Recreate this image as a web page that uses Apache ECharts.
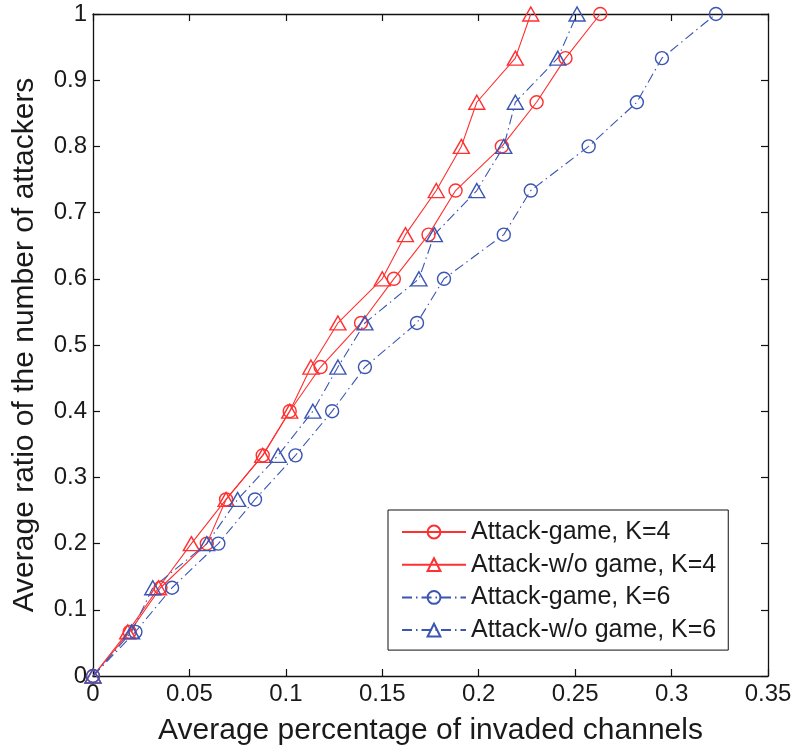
<!DOCTYPE html>
<html>
<head>
<meta charset="utf-8">
<script src="https://cdn.jsdelivr.net/npm/echarts@6/dist/echarts.min.js"></script>
<style>
html,body{margin:0;padding:0;background:#fff;}
#chart{width:796px;height:751px;}
</style>
</head>
<body>
<div id="chart"></div>
<script>
// y values: fractions k/15
var yValues = [0, 0.0667, 0.1333, 0.2, 0.2667, 0.3333, 0.4, 0.4667, 0.5333, 0.6, 0.6667, 0.7333, 0.8, 0.8667, 0.9333, 1.0];
var xGameK4 = [0, 0.019, 0.035, 0.059, 0.069, 0.088, 0.102, 0.118, 0.139, 0.156, 0.174, 0.188, 0.212, 0.230, 0.245, 0.263];
var xNoGameK4 = [0, 0.018, 0.034, 0.051, 0.069, 0.088, 0.102, 0.113, 0.127, 0.150, 0.162, 0.178, 0.191, 0.199, 0.219, 0.227];
var xGameK6 = [0, 0.022, 0.041, 0.065, 0.084, 0.105, 0.124, 0.141, 0.168, 0.182, 0.213, 0.227, 0.257, 0.282, 0.295, 0.323];
var xNoGameK6 = [0, 0.020, 0.031, 0.059, 0.075, 0.096, 0.114, 0.127, 0.141, 0.169, 0.177, 0.199, 0.213, 0.219, 0.241, 0.251];
var seriesNames = ['Attack-game, K=4', 'Attack-w/o game, K=4', 'Attack-game, K=6', 'Attack-w/o game, K=6'];
var xTickLabels = ['0', '0.05', '0.1', '0.15', '0.2', '0.25', '0.3', '0.35'];
var yTickLabels = ['0', '0.1', '0.2', '0.3', '0.4', '0.5', '0.6', '0.7', '0.8', '0.9', '1'];
var xAxisTitle = 'Average percentage of invaded channels';
var yAxisTitle = 'Average ratio of the number of attackers';

var RED = '#ff3030';
var BLUE = '#3a55b2';
var FONT = 'Liberation Sans, Arial, sans-serif';
var TXT = '#1a1a1a';

function pairs(xs) { return xs.map(function (x, i) { return [x, yValues[i]]; }); }

function mk(name, xs, color, symbol, dashed) {
  return {
    name: name,
    type: 'line',
    data: pairs(xs),
    symbol: symbol,
    symbolSize: symbol === 'circle' ? 13 : [16, 14],
    showAllSymbol: true,
    z: 3,
    lineStyle: { color: color, width: 1.1, type: dashed ? [10, 4, 1.5, 4] : 'solid' },
    itemStyle: { color: 'rgba(255,255,255,0)', borderColor: color, borderWidth: 1.4 },
    emphasis: { disabled: true },
    animation: false
  };
}

var chart = echarts.init(document.getElementById('chart'), null, { renderer: 'canvas' });
var axisLine = { show: true, onZero: false, lineStyle: { color: '#111', width: 1.3 } };
var tick = { show: true, inside: true, length: 7, lineStyle: { color: '#111', width: 1.2 } };
chart.setOption({
  backgroundColor: '#fff',
  animation: false,
  grid: { left: 93, right: 28, top: 14, bottom: 73, containLabel: false },
  xAxis: [{
    type: 'value', min: 0, max: 0.35, interval: 0.05, position: 'bottom',
    name: xAxisTitle, nameLocation: 'middle', nameGap: 40,
    nameTextStyle: { fontFamily: FONT, fontSize: 30, color: TXT },
    axisLine: axisLine, axisTick: tick,
    axisLabel: { fontFamily: FONT, fontSize: 24, color: TXT, margin: 6,
      formatter: function (v) { return xTickLabels[Math.round(v / 0.05)]; } },
    splitLine: { show: false }
  }, {
    type: 'value', min: 0, max: 0.35, interval: 0.05, position: 'top',
    axisLine: axisLine, axisTick: tick,
    axisLabel: { show: false }, splitLine: { show: false }
  }],
  yAxis: [{
    type: 'value', min: 0, max: 1, interval: 0.1, position: 'left',
    name: yAxisTitle, nameLocation: 'middle', nameGap: 53, nameRotate: 90,
    nameTextStyle: { fontFamily: FONT, fontSize: 30, color: TXT },
    axisLine: axisLine, axisTick: tick,
    axisLabel: { fontFamily: FONT, fontSize: 24, color: TXT, margin: 6,
      formatter: function (v) { return yTickLabels[Math.round(v / 0.1)]; } },
    splitLine: { show: false }
  }, {
    type: 'value', min: 0, max: 1, interval: 0.1, position: 'right',
    axisLine: axisLine, axisTick: tick,
    axisLabel: { show: false }, splitLine: { show: false }
  }],
  legend: {
    orient: 'vertical', left: 388, top: 510,
    backgroundColor: '#fff', borderColor: '#111', borderWidth: 1,
    padding: [9, 12, 7, 13], itemGap: 6.7, itemWidth: 64, itemHeight: 16,
    textStyle: { fontFamily: FONT, fontSize: 25, lineHeight: 26, color: TXT },
    data: seriesNames
  },
  series: [
    mk(seriesNames[0], xGameK4, RED, 'circle', false),
    mk(seriesNames[1], xNoGameK4, RED, 'triangle', false),
    mk(seriesNames[2], xGameK6, BLUE, 'circle', true),
    mk(seriesNames[3], xNoGameK6, BLUE, 'triangle', true)
  ]
});
</script>
</body>
</html>
